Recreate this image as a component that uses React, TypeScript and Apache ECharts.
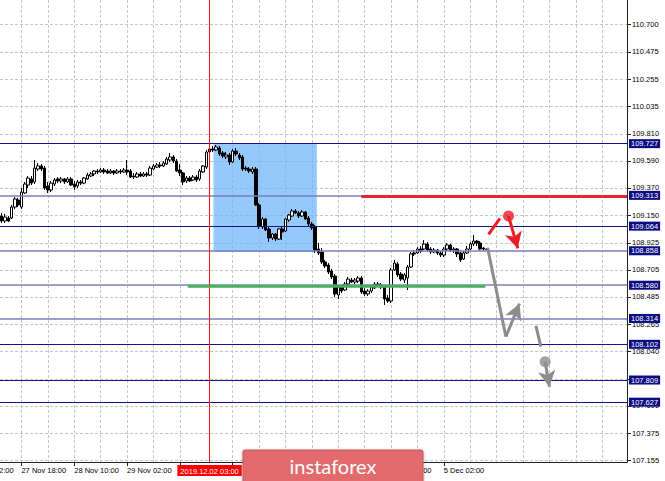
import React, { useEffect, useRef } from "react";
import * as echarts from "echarts";

// Hourly sessions shown on the chart: [day label, first hour, last hour]
const sessionDays: [string, number, number][] = [
  ["27 Nov", 12, 23],
  ["28 Nov", 0, 23],
  ["29 Nov", 0, 23],
  ["2 Dec", 0, 23],
  ["3 Dec", 0, 23],
  ["4 Dec", 0, 23],
  ["5 Dec", 0, 15],
];
const totalSlots = 190; // bars + empty shifted area on the right

// USDJPY H1 candles: [open, close, low, high]
const candles: number[][] = [
  [109.142, 109.102, 109.085, 109.167],
  [109.102, 109.134, 109.085, 109.159],
  [109.126, 109.102, 109.094, 109.142],
  [109.126, 109.215, 109.118, 109.232],
  [109.215, 109.280, 109.199, 109.297],
  [109.272, 109.232, 109.215, 109.289],
  [109.215, 109.337, 109.199, 109.370],
  [109.329, 109.402, 109.321, 109.419],
  [109.394, 109.451, 109.370, 109.467],
  [109.443, 109.410, 109.394, 109.467],
  [109.419, 109.532, 109.402, 109.597],
  [109.524, 109.549, 109.508, 109.573],
  [109.549, 109.524, 109.508, 109.565],
  [109.532, 109.370, 109.354, 109.549],
  [109.386, 109.354, 109.329, 109.419],
  [109.354, 109.410, 109.337, 109.427],
  [109.402, 109.435, 109.386, 109.451],
  [109.443, 109.427, 109.410, 109.459],
  [109.427, 109.443, 109.410, 109.459],
  [109.443, 109.419, 109.402, 109.451],
  [109.419, 109.443, 109.410, 109.459],
  [109.443, 109.394, 109.386, 109.459],
  [109.402, 109.378, 109.354, 109.427],
  [109.386, 109.419, 109.370, 109.435],
  [109.419, 109.410, 109.394, 109.435],
  [109.410, 109.451, 109.402, 109.459],
  [109.443, 109.475, 109.435, 109.492],
  [109.467, 109.484, 109.459, 109.500],
  [109.484, 109.508, 109.467, 109.516],
  [109.508, 109.500, 109.484, 109.524],
  [109.500, 109.516, 109.492, 109.532],
  [109.516, 109.500, 109.484, 109.532],
  [109.508, 109.492, 109.484, 109.524],
  [109.492, 109.508, 109.484, 109.524],
  [109.508, 109.492, 109.475, 109.516],
  [109.492, 109.508, 109.484, 109.524],
  [109.508, 109.500, 109.484, 109.524],
  [109.500, 109.516, 109.492, 109.532],
  [109.516, 109.500, 109.475, 109.597],
  [109.508, 109.459, 109.451, 109.524],
  [109.467, 109.459, 109.443, 109.492],
  [109.459, 109.484, 109.451, 109.500],
  [109.484, 109.467, 109.459, 109.500],
  [109.467, 109.484, 109.459, 109.500],
  [109.484, 109.475, 109.459, 109.500],
  [109.475, 109.532, 109.467, 109.549],
  [109.524, 109.549, 109.516, 109.565],
  [109.540, 109.557, 109.532, 109.573],
  [109.557, 109.549, 109.532, 109.581],
  [109.549, 109.573, 109.540, 109.589],
  [109.565, 109.605, 109.557, 109.622],
  [109.597, 109.622, 109.581, 109.654],
  [109.622, 109.589, 109.573, 109.638],
  [109.589, 109.508, 109.500, 109.605],
  [109.516, 109.492, 109.467, 109.565],
  [109.492, 109.419, 109.394, 109.500],
  [109.427, 109.451, 109.410, 109.467],
  [109.451, 109.427, 109.419, 109.467],
  [109.435, 109.459, 109.427, 109.475],
  [109.459, 109.435, 109.419, 109.475],
  [109.443, 109.508, 109.427, 109.524],
  [109.500, 109.549, 109.492, 109.557],
  [109.540, 109.662, 109.524, 109.679],
  [109.662, 109.687, 109.646, 109.703],
  [109.687, 109.679, 109.662, 109.711],
  [109.679, 109.703, 109.670, 109.719],
  [109.695, 109.646, 109.630, 109.711],
  [109.654, 109.630, 109.614, 109.670],
  [109.622, 109.638, 109.605, 109.662],
  [109.638, 109.581, 109.557, 109.654],
  [109.581, 109.670, 109.573, 109.687],
  [109.670, 109.646, 109.630, 109.695],
  [109.638, 109.614, 109.597, 109.654],
  [109.622, 109.524, 109.508, 109.638],
  [109.532, 109.524, 109.508, 109.549],
  [109.524, 109.508, 109.492, 109.540],
  [109.500, 109.524, 109.484, 109.540],
  [109.524, 109.232, 109.224, 109.540],
  [109.232, 109.061, 109.037, 109.248],
  [109.053, 109.118, 109.037, 109.134],
  [109.118, 109.029, 109.020, 109.126],
  [109.037, 108.964, 108.931, 109.053],
  [108.964, 108.996, 108.947, 109.004],
  [108.996, 108.955, 108.939, 109.004],
  [108.955, 109.037, 108.947, 109.045],
  [109.037, 109.012, 108.947, 109.053],
  [109.020, 109.118, 109.012, 109.126],
  [109.110, 109.150, 109.094, 109.159],
  [109.142, 109.183, 109.134, 109.199],
  [109.183, 109.167, 109.159, 109.199],
  [109.167, 109.142, 109.126, 109.183],
  [109.142, 109.175, 109.134, 109.191],
  [109.175, 109.118, 109.110, 109.183],
  [109.126, 109.077, 109.061, 109.142],
  [109.077, 109.045, 109.029, 109.094],
  [109.053, 108.866, 108.842, 109.069],
  [108.874, 108.842, 108.825, 108.923],
  [108.850, 108.769, 108.752, 108.882],
  [108.769, 108.736, 108.720, 108.785],
  [108.744, 108.687, 108.671, 108.760],
  [108.695, 108.647, 108.630, 108.712],
  [108.655, 108.509, 108.485, 108.671],
  [108.501, 108.566, 108.468, 108.582],
  [108.566, 108.533, 108.517, 108.582],
  [108.541, 108.590, 108.533, 108.606],
  [108.590, 108.630, 108.574, 108.647],
  [108.622, 108.606, 108.598, 108.639],
  [108.606, 108.622, 108.590, 108.639],
  [108.614, 108.639, 108.598, 108.655],
  [108.639, 108.525, 108.509, 108.655],
  [108.533, 108.509, 108.493, 108.557],
  [108.509, 108.533, 108.493, 108.549],
  [108.533, 108.566, 108.517, 108.582],
  [108.557, 108.590, 108.549, 108.606],
  [108.590, 108.582, 108.566, 108.606],
  [108.582, 108.566, 108.549, 108.598],
  [108.566, 108.468, 108.420, 108.582],
  [108.476, 108.452, 108.436, 108.501],
  [108.452, 108.704, 108.436, 108.720],
  [108.704, 108.760, 108.695, 108.785],
  [108.752, 108.663, 108.647, 108.769],
  [108.671, 108.630, 108.614, 108.687],
  [108.622, 108.663, 108.598, 108.679],
  [108.639, 108.728, 108.541, 108.744],
  [108.728, 108.834, 108.720, 108.850],
  [108.842, 108.834, 108.817, 108.866],
  [108.842, 108.874, 108.834, 108.890],
  [108.874, 108.858, 108.842, 108.899],
  [108.874, 108.915, 108.866, 108.947],
  [108.915, 108.866, 108.850, 108.931],
  [108.874, 108.850, 108.834, 108.890],
  [108.850, 108.866, 108.842, 108.882],
  [108.866, 108.842, 108.825, 108.874],
  [108.842, 108.825, 108.809, 108.858],
  [108.825, 108.874, 108.809, 108.890],
  [108.874, 108.907, 108.858, 108.923],
  [108.907, 108.866, 108.850, 108.915],
  [108.866, 108.874, 108.842, 108.890],
  [108.874, 108.834, 108.809, 108.882],
  [108.842, 108.785, 108.769, 108.858],
  [108.793, 108.842, 108.785, 108.858],
  [108.842, 108.874, 108.834, 108.899],
  [108.874, 108.915, 108.866, 108.931],
  [108.915, 108.939, 108.899, 108.988],
  [108.939, 108.923, 108.899, 108.947],
  [108.923, 108.874, 108.866, 108.939],
  [108.882, 108.874, 108.858, 108.890],
  [108.874, 108.870, 108.866, 108.882],
];

// Price scale tick labels (right axis)
const yTickLabels = [
  110.7, 110.475, 110.255, 110.035, 109.81, 109.59, 109.37, 109.15, 108.925,
  108.705, 108.485, 108.265, 108.04, 107.82, 107.6, 107.375, 107.155,
];
const yRange = [107.144, 110.897];

// Time axis labels shown (bar indices)
const xLabelIndex = [6, 22, 38, 118, 134];
const cutLabel = "27 Nov 02:00";

// Horizontal levels
const levels = [109.727, 109.313, 109.064, 108.858, 108.58, 108.314, 108.102, 107.809, 107.627];
const softLevels = [109.313, 108.858, 108.58, 108.314];

// Period separator
const markerIndex = 63;
const markerTime = "2019.12.02 03:00";

// Blue zone: [bar from, bar to], [price top, price bottom]
const zoneBars = [64.2, 95.5];
const zonePrices = [109.735, 108.85];

// Drawn lines: points are [bar index, price]
const redLevelLine = [[109.0, 109.303], [189.5, 109.303]];
const greenLevelLine = [[56.4, 108.57], [146.6, 108.57]];
const redStroke = [[147.55, 108.994], [151.0, 109.124]];
const redArrow = [[153.6, 109.142], [156.4, 108.88]];
const greyStroke = [[147.25, 108.885], [152.8, 108.162]];
const greyArrow = [[152.8, 108.162], [156.9, 108.43]];
const greyDash = [[161.9, 108.249], [163.4, 108.081]];
const greyArrow2 = [[164.7, 107.959], [166.0, 107.755]];
const redDot = [153.6, 109.142];
const greyDot = [164.7, 107.959];

const FONT = "Liberation Sans";
const RED = "#ee1c25";
const GREY = "#8c8c8c";

function buildCategories(): string[] {
  const cats: string[] = [];
  sessionDays.forEach(([d, h0, h1]) => {
    for (let h = h0; h <= h1; h++) cats.push(`${d} ${String(h).padStart(2, "0")}:00`);
  });
  let k = 0;
  while (cats.length < totalSlots) cats.push(`~${k++}`);
  return cats;
}

export default function App() {
  const ref = useRef<HTMLDivElement>(null);

  useEffect(() => {
    if (!ref.current) return;
    const chart = echarts.init(ref.current, null, { renderer: "svg" });
    const categories = buildCategories();
    const lastBar = candles.length - 1;

    const seg = (pts: number[][], color: string, width: number, arrow: boolean, label?: any) => [
      { coord: pts[0], symbol: "none", lineStyle: { color, width, type: "solid" }, label },
      {
        coord: pts[1],
        symbol: arrow ? "arrow" : "none",
        symbolSize: arrow ? [13, 16] : 0,
      },
    ];

    const levelItems = levels.map((v) => {
      const soft = softLevels.includes(v);
      return {
        yAxis: v,
        lineStyle: { color: soft ? "#7d7dc0" : "#13138a", width: soft ? 1.6 : 1, type: "solid" },
        label: {
          show: true,
          position: "end",
          distance: 2,
          formatter: v.toFixed(3),
          color: "#ffffff",
          backgroundColor: "#0b0b84",
          padding: [1, 2, 0, 2],
          fontSize: 7.5,
          fontFamily: FONT,
        },
      };
    });

    const markerLabel = {
      show: true,
      position: "start",
      distance: 3,
      formatter: markerTime,
      color: "#ffffff",
      backgroundColor: "#ff0000",
      padding: [2, 3, 1, 3],
      fontSize: 7.5,
      fontFamily: FONT,
    };

    const option: any = {
      animation: false,
      grid: { left: 0, right: 38, top: 0, bottom: 19, containLabel: false },
      xAxis: [
        {
          type: "category",
          data: categories,
          boundaryGap: true,
          axisLine: { show: true, onZero: false, lineStyle: { color: "#222", width: 1 } },
          axisTick: {
            show: true,
            alignWithLabel: true,
            length: 4,
            interval: (i: number) => i >= 6 && i <= lastBar && (i - 6) % 16 === 0,
            lineStyle: { color: "#222" },
          },
          axisLabel: {
            interval: (i: number) => xLabelIndex.includes(i),
            align: "left",
            margin: 4,
            fontSize: 7.5,
            fontFamily: FONT,
            color: "#000",
          },
          splitLine: {
            show: true,
            alignWithLabel: true,
            interval: (i: number) => i >= 6 && (i - 6) % 8 === 0 && i !== 62,
            lineStyle: { color: "#c6c6c6", type: [3, 2], width: 1 },
          },
        },
        {
          type: "value",
          min: -0.5,
          max: totalSlots - 0.5,
          show: false,
          axisLine: { show: false, onZero: false },
          splitLine: { show: false },
        },
      ],
      yAxis: {
        type: "value",
        position: "right",
        min: yRange[0],
        max: yRange[1],
        axisLine: { show: true, onZero: false, lineStyle: { color: "#222", width: 1 } },
        axisTick: { show: true, customValues: yTickLabels, length: 4, lineStyle: { color: "#222" } },
        axisLabel: {
          customValues: yTickLabels,
          formatter: (v: number) => v.toFixed(3),
          margin: 5,
          fontSize: 7.5,
          fontFamily: FONT,
          color: "#000",
        },
        splitLine: { show: true, lineStyle: { color: "#c6c6c6", type: [3, 2], width: 1 } },
      },
      series: [
        {
          type: "candlestick",
          xAxisIndex: 0,
          data: candles,
          barWidth: 3,
          z: 3,
          itemStyle: {
            color: "#ffffff",
            color0: "#000000",
            borderColor: "#000000",
            borderColor0: "#000000",
            borderWidth: 1,
          },
          emphasis: { disabled: true },
        },
        {
          type: "scatter",
          xAxisIndex: 1,
          z: 6,
          symbolSize: 11,
          silent: true,
          data: [
            { value: redDot, itemStyle: { color: RED } },
            { value: greyDot, itemStyle: { color: GREY } },
          ],
          markArea: {
            silent: true,
            itemStyle: { color: "rgba(110,180,250,0.72)" },
            data: [[{ coord: [zoneBars[0], zonePrices[0]] }, { coord: [zoneBars[1], zonePrices[1]] }]],
          },
          markLine: {
            silent: true,
            symbol: ["none", "none"],
            label: { show: false },
            lineStyle: { type: "solid" },
            emphasis: { disabled: true },
            data: [
              ...levelItems,
              seg([[markerIndex, yRange[0]], [markerIndex, yRange[1]]], "#ff1010", 1, false, markerLabel),
              seg(redLevelLine, "#e8232b", 3, false),
              seg(greenLevelLine, "#3cb64a", 2.5, false),
              seg(redStroke, RED, 3, false),
              seg(redArrow, RED, 3, true),
              seg(greyStroke, GREY, 3, false),
              seg(greyArrow, GREY, 3, true),
              seg(greyDash, GREY, 3, false),
              seg(greyArrow2, GREY, 3, true),
            ],
          },
        },
      ],
      graphic: [
        {
          type: "text",
          x: -31,
          y: 466,
          silent: true,
          style: { text: cutLabel, fill: "#000", fontSize: 7.5, fontFamily: FONT },
        },
        {
          type: "group",
          silent: true,
          z: 100,
          children: [
            {
              type: "rect",
              z: 100,
              shape: { x: 243, y: 450, width: 180, height: 34, r: 2 },
              style: {
                fill: "#e26a6d",
                stroke: "#c85a5c",
                lineWidth: 1,
                shadowBlur: 3,
                shadowColor: "rgba(0,0,0,0.35)",
                shadowOffsetY: 1,
              },
            },
            {
              type: "text",
              z: 101,
              x: 333,
              y: 466,
              style: {
                text: "instaforex",
                fill: "#ffffff",
                fontSize: 20,
                fontFamily: "Lato",
                align: "center",
                verticalAlign: "middle",
              },
            },
          ],
        },
      ],
    };

    chart.setOption(option);
    return () => chart.dispose();
  }, []);

  return (
    <div
      ref={ref}
      style={{ position: "fixed", left: 0, top: 0, width: 665, height: 481, background: "#fff" }}
    />
  );
}
